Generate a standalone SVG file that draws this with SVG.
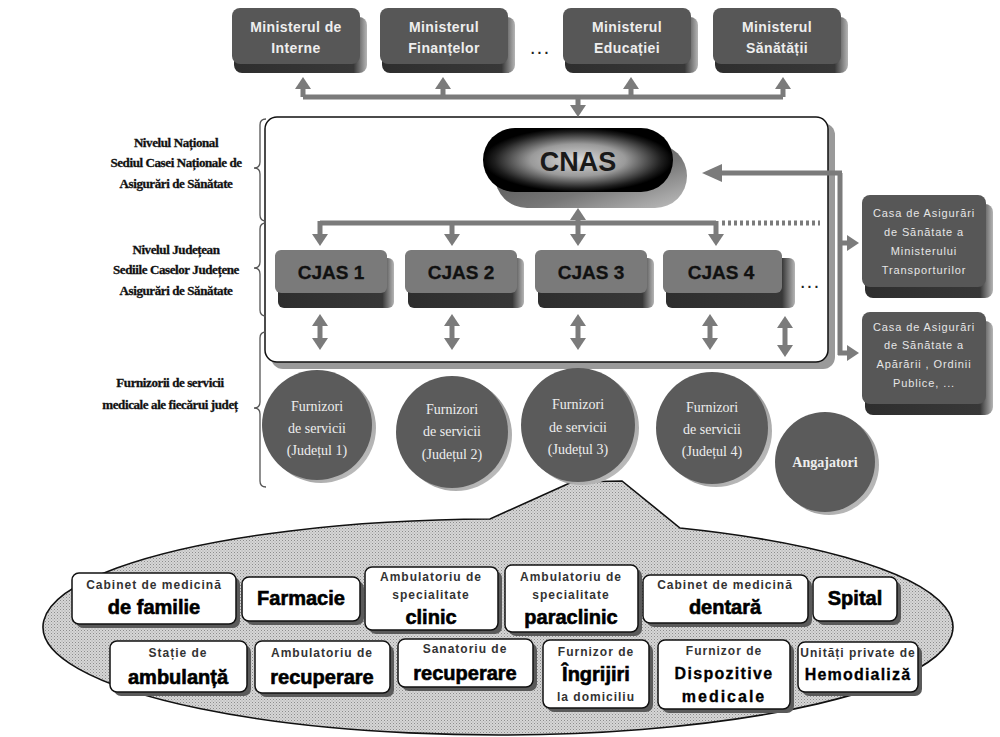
<svg xmlns="http://www.w3.org/2000/svg" width="1000" height="737" viewBox="0 0 1000 737">
<defs>
<style>
.conn{fill:none;stroke:#7b7b7b;stroke-width:5}
.arr{marker-end:url(#ah)}
.dbl{marker-start:url(#ah);marker-end:url(#ah)}
.brace{fill:none;stroke:#555;stroke-width:1.3}
.lbl{font-family:"Liberation Serif","Times New Roman",serif;font-weight:bold;font-size:13px;fill:#111;stroke:#111;stroke-width:0.3;text-anchor:middle;letter-spacing:-0.4px}
.mt{font-family:"Liberation Sans",Arial,sans-serif;font-weight:bold;font-size:14px;fill:#eee;letter-spacing:0.4px;text-anchor:middle}
.face{fill:#575757}
.ext{fill:url(#extGrad)}
.cface{fill:#7a7a7a}
.ct{font-family:"Liberation Sans",Arial,sans-serif;font-weight:bold;font-size:19px;fill:#111;stroke:#111;stroke-width:0.3;text-anchor:middle}
.st{font-family:"Liberation Sans",Arial,sans-serif;font-size:11px;fill:#e6e6e6;letter-spacing:0.9px;text-anchor:middle}
.circ{fill:#5b5b5b}
.rim{fill:url(#rimGrad)}
.cirt{font-family:"Liberation Serif","Times New Roman",serif;font-size:14px;fill:#eee;text-anchor:middle}
.bshadow{fill:#5a5a5a}
.bface{fill:#fff;stroke:#111;stroke-width:1.5}
.sm{font-family:"Liberation Sans",Arial,sans-serif;font-weight:bold;font-size:12px;fill:#333;letter-spacing:1px;text-anchor:middle}
.bg{font-family:"Liberation Sans",Arial,sans-serif;font-weight:bold;font-size:20px;fill:#000;stroke:#000;stroke-width:0.6;text-anchor:middle}
.md{font-family:"Liberation Sans",Arial,sans-serif;font-weight:bold;font-size:16px;fill:#000;stroke:#000;stroke-width:0.3;text-anchor:middle}
.dots{font-family:"Liberation Sans",Arial,sans-serif;font-weight:bold;font-size:14px;fill:#222;letter-spacing:3px;text-anchor:middle}
</style>
<marker id="ah" viewBox="0 0 12 16" refX="1" refY="8" markerWidth="12" markerHeight="16" markerUnits="userSpaceOnUse" orient="auto-start-reverse"><path d="M0,0 L12,8 L0,16 z" fill="#7b7b7b"/></marker>
<marker id="ahL" viewBox="0 0 20 18" refX="1" refY="9" markerWidth="20" markerHeight="18" markerUnits="userSpaceOnUse" orient="auto"><path d="M0,0 L20,9 L0,18 z" fill="#7b7b7b"/></marker>
<linearGradient id="extGrad" x1="0" y1="0" x2="1" y2="0"><stop offset="0" stop-color="#2e2e2e"/><stop offset="0.9" stop-color="#383838"/><stop offset="1" stop-color="#b5b5b5"/></linearGradient>
<radialGradient id="cnasFace" cx="0.5" cy="0.5" r="0.5"><stop offset="0" stop-color="#dcdcdc"/><stop offset="0.5" stop-color="#9a9a9a"/><stop offset="0.88" stop-color="#1e1e1e"/><stop offset="1" stop-color="#000"/></radialGradient>
<linearGradient id="cnasExt" x1="0" y1="0" x2="1" y2="1"><stop offset="0" stop-color="#444"/><stop offset="0.6" stop-color="#777"/><stop offset="1" stop-color="#c0c0c0"/></linearGradient>
<linearGradient id="rimGrad" x1="0" y1="0" x2="1" y2="1"><stop offset="0" stop-color="#666"/><stop offset="1" stop-color="#c8c8c8"/></linearGradient>
<pattern id="hatch" width="3" height="3" patternUnits="userSpaceOnUse"><rect width="3" height="3" fill="#d6d6d6"/><rect width="1" height="1" fill="#8c8c8c"/><rect x="1.5" y="1.5" width="1" height="1" fill="#a4a4a4"/></pattern>
</defs>
<rect width="1000" height="737" fill="#fff"/>

<g id="callout">
<path d="M572,482 L490,519 A455,108 0 1,0 680,528 L622,481 Z" fill="url(#hatch)" stroke="#111" stroke-width="1.6"/>
</g>

<g id="frame">
<rect x="271" y="123" width="564" height="246" rx="12" fill="#9a9a9a"/>
<rect x="265" y="117" width="563" height="245" rx="12" fill="#fff" stroke="#111" stroke-width="1.5"/>
<path class="brace" d="M266,119 Q260,119 260,125 V162 Q260,168 254,168 Q260,168 260,174 V215 Q260,221 266,221"/>
<path class="brace" d="M266,223 Q260,223 260,229 V262 Q260,268 254,268 Q260,268 260,274 V310 Q260,316 266,316"/>
<path class="brace" d="M266,332 Q260,332 260,338 V402 Q260,408 254,408 Q260,408 260,414 V481 Q260,487 266,487"/>
</g>

<g id="labels">
<text class="lbl" x="176" y="147">Nivelul Național</text>
<text class="lbl" x="176" y="167">Sediul Casei Naționale de</text>
<text class="lbl" x="176" y="188">Asigurări de Sănătate</text>
<text class="lbl" x="176" y="254">Nivelul Județean</text>
<text class="lbl" x="176" y="274">Sediile Caselor Județene</text>
<text class="lbl" x="176" y="295">Asigurări de Sănătate</text>
<text class="lbl" x="170" y="387">Furnizorii de servicii</text>
<text class="lbl" x="170" y="409">medicale ale fiecărui județ</text>
<text class="dots" x="541" y="54">...</text>
<text class="dots" x="811" y="288">...</text>
</g>

<g id="connectors">
<path class="conn" d="M303,97 H783"/>
<path class="conn arr" d="M303,97 V88"/>
<path class="conn arr" d="M443,97 V88"/>
<path class="conn arr" d="M631,97 V88"/>
<path class="conn arr" d="M783,97 V88"/>
<path class="conn arr" d="M578,95 V106"/>
<path class="conn" d="M320,223 H716"/>
<path class="conn" d="M722,223 H820" stroke-dasharray="3 3" stroke-width="4"/>
<path class="conn arr" d="M320,221 V235"/>
<path class="conn arr" d="M452,221 V235"/>
<path class="conn arr" d="M716,221 V235"/>
<path class="conn dbl" d="M578,219 V235"/>
<path class="conn" d="M840,173 V355"/>
<path class="conn" d="M842,173 H721" marker-end="url(#ahL)"/>
<path class="conn arr" d="M838,243 H848"/>
<path class="conn arr" d="M838,353 H848"/>
<path class="conn dbl" d="M320,325 V339"/>
<path class="conn dbl" d="M452,325 V339"/>
<path class="conn dbl" d="M578,325 V339"/>
<path class="conn dbl" d="M710,325 V339"/>
<path class="conn dbl" d="M785,327 V346"/>
</g>

<g id="min-interne">
<rect class="ext" x="234" y="17" width="133" height="56" rx="8"/>
<rect class="face" x="232" y="8" width="128" height="56" rx="8"/>
<text class="mt" x="296" y="32">Ministerul de</text>
<text class="mt" x="296" y="53">Interne</text>
</g>
<g id="min-finante">
<rect class="ext" x="382" y="17" width="133" height="56" rx="8"/>
<rect class="face" x="380" y="8" width="128" height="56" rx="8"/>
<text class="mt" x="444" y="32">Ministerul</text>
<text class="mt" x="444" y="53">Finanțelor</text>
</g>
<g id="min-educatie">
<rect class="ext" x="565" y="17" width="133" height="56" rx="8"/>
<rect class="face" x="563" y="8" width="128" height="56" rx="8"/>
<text class="mt" x="627" y="32">Ministerul</text>
<text class="mt" x="627" y="53">Educației</text>
</g>
<g id="min-sanatate">
<rect class="ext" x="715" y="17" width="133" height="56" rx="8"/>
<rect class="face" x="713" y="8" width="128" height="56" rx="8"/>
<text class="mt" x="777" y="32">Ministerul</text>
<text class="mt" x="777" y="53">Sănătății</text>
</g>

<g id="cnas">
<rect x="495" y="144" width="192" height="64" rx="32" fill="url(#cnasExt)"/>
<rect x="483" y="128" width="190" height="64" rx="32" fill="url(#cnasFace)"/>
<text x="578" y="171" font-family="Liberation Sans, Arial, sans-serif" font-weight="bold" font-size="27" fill="#1a1a1a" text-anchor="middle">CNAS</text>
</g>

<g id="cjas1">
<rect class="ext" x="278" y="258" width="116" height="50" rx="6"/>
<rect class="cface" x="275" y="250" width="112" height="43" rx="6"/>
<text class="ct" x="331" y="279">CJAS 1</text>
</g>
<g id="cjas2">
<rect class="ext" x="408" y="258" width="116" height="50" rx="6"/>
<rect class="cface" x="405" y="250" width="112" height="43" rx="6"/>
<text class="ct" x="461" y="279">CJAS 2</text>
</g>
<g id="cjas3">
<rect class="ext" x="538" y="258" width="116" height="50" rx="6"/>
<rect class="cface" x="535" y="250" width="112" height="43" rx="6"/>
<text class="ct" x="591" y="279">CJAS 3</text>
</g>
<g id="cjas4">
<rect class="ext" x="666" y="258" width="129" height="50" rx="6"/>
<rect class="cface" x="663" y="250" width="119" height="43" rx="6"/>
<text class="ct" x="721" y="279">CJAS 4</text>
</g>

<g id="casa-transport">
<rect class="ext" x="865" y="204" width="128" height="94" rx="8"/>
<rect class="face" x="862" y="195" width="124" height="92" rx="8"/>
<text class="st" x="924" y="217">Casa de Asigurări</text>
<text class="st" x="924" y="236">de Sănătate a</text>
<text class="st" x="924" y="255">Ministerului</text>
<text class="st" x="924" y="274">Transporturilor</text>
</g>
<g id="casa-aparare">
<rect class="ext" x="865" y="321" width="128" height="94" rx="8"/>
<rect class="face" x="862" y="312" width="124" height="92" rx="8"/>
<text class="st" x="924" y="331">Casa de Asigurări</text>
<text class="st" x="924" y="349">de Sănătate a</text>
<text class="st" x="924" y="368">Apărării , Ordinii</text>
<text class="st" x="924" y="387">Publice, ...</text>
</g>

<g id="furnizori1">
<circle class="rim" cx="321" cy="428" r="55"/>
<circle class="circ" cx="317" cy="425" r="55"/>
<text class="cirt" x="317" y="411">Furnizori</text>
<text class="cirt" x="317" y="433">de servicii</text>
<text class="cirt" x="317" y="455">(Județul 1)</text>
</g>
<g id="furnizori2">
<circle class="rim" cx="456" cy="435" r="56"/>
<circle class="circ" cx="452" cy="432" r="56"/>
<text class="cirt" x="452" y="414">Furnizori</text>
<text class="cirt" x="452" y="436">de servicii</text>
<text class="cirt" x="452" y="459">(Județul 2)</text>
</g>
<g id="furnizori3">
<circle class="rim" cx="582" cy="428" r="57"/>
<circle class="circ" cx="578" cy="425" r="57"/>
<text class="cirt" x="578" y="409">Furnizori</text>
<text class="cirt" x="578" y="432">de servicii</text>
<text class="cirt" x="578" y="454">(Județul 3)</text>
</g>
<g id="furnizori4">
<circle class="rim" cx="716" cy="431" r="56"/>
<circle class="circ" cx="712" cy="428" r="56"/>
<text class="cirt" x="712" y="412">Furnizori</text>
<text class="cirt" x="712" y="434">de servicii</text>
<text class="cirt" x="712" y="456">(Județul 4)</text>
</g>
<g id="angajatori">
<circle class="rim" cx="829" cy="465" r="50"/>
<circle class="circ" cx="825" cy="462" r="50"/>
<text class="cirt" x="825" y="467" font-weight="bold">Angajatori</text>
</g>

<g id="b-familie">
<rect class="bshadow" x="76" y="577" width="164" height="51" rx="7"/>
<rect class="bface" x="72" y="573" width="164" height="51" rx="7"/>
<text class="sm" x="154" y="589">Cabinet de medicină</text>
<text class="bg" x="154" y="614">de familie</text>
</g>
<g id="b-farmacie">
<rect class="bshadow" x="246" y="581" width="118" height="44" rx="7"/>
<rect class="bface" x="242" y="577" width="118" height="44" rx="7"/>
<text class="bg" x="301" y="605">Farmacie</text>
</g>
<g id="b-clinic">
<rect class="bshadow" x="369" y="571" width="133" height="63" rx="7"/>
<rect class="bface" x="365" y="567" width="133" height="63" rx="7"/>
<text class="sm" x="431" y="581">Ambulatoriu de</text>
<text class="sm" x="431" y="599">specialitate</text>
<text class="bg" x="431" y="624">clinic</text>
</g>
<g id="b-paraclinic">
<rect class="bshadow" x="509" y="569" width="133" height="67" rx="7"/>
<rect class="bface" x="505" y="565" width="133" height="67" rx="7"/>
<text class="sm" x="571" y="581">Ambulatoriu de</text>
<text class="sm" x="571" y="599">specialitate</text>
<text class="bg" x="571" y="624">paraclinic</text>
</g>
<g id="b-dentara">
<rect class="bshadow" x="647" y="579" width="165" height="48" rx="7"/>
<rect class="bface" x="643" y="575" width="165" height="48" rx="7"/>
<text class="sm" x="725" y="589">Cabinet de medicină</text>
<text class="bg" x="725" y="614">dentară</text>
</g>
<g id="b-spital">
<rect class="bshadow" x="817" y="581" width="84" height="44" rx="7"/>
<rect class="bface" x="813" y="577" width="84" height="44" rx="7"/>
<text class="bg" x="855" y="605">Spital</text>
</g>
<g id="b-ambulanta">
<rect class="bshadow" x="114" y="645" width="137" height="51" rx="7"/>
<rect class="bface" x="110" y="641" width="137" height="51" rx="7"/>
<text class="sm" x="178" y="657">Stație de</text>
<text class="bg" x="178" y="684">ambulanță</text>
</g>
<g id="b-amb-recuperare">
<rect class="bshadow" x="259" y="645" width="135" height="52" rx="7"/>
<rect class="bface" x="255" y="641" width="135" height="52" rx="7"/>
<text class="sm" x="322" y="657">Ambulatoriu de</text>
<text class="bg" x="322" y="684">recuperare</text>
</g>
<g id="b-sanatoriu">
<rect class="bshadow" x="402" y="643" width="135" height="48" rx="7"/>
<rect class="bface" x="398" y="639" width="135" height="48" rx="7"/>
<text class="sm" x="465" y="653">Sanatoriu de</text>
<text class="bg" x="465" y="680">recuperare</text>
</g>
<g id="b-ingrijiri">
<rect class="bshadow" x="547" y="644" width="106" height="68" rx="7"/>
<rect class="bface" x="543" y="640" width="106" height="68" rx="7"/>
<text class="sm" x="596" y="656">Furnizor de</text>
<text class="bg" x="596" y="681">Îngrijiri</text>
<text class="sm" x="596" y="701">la domiciliu</text>
</g>
<g id="b-dispozitive">
<rect class="bshadow" x="662" y="644" width="132" height="69" rx="7"/>
<rect class="bface" x="658" y="640" width="132" height="69" rx="7"/>
<text class="sm" x="724" y="655">Furnizor de</text>
<text class="md" x="724" y="679" letter-spacing="1.3">Dispozitive</text>
<text class="md" x="724" y="702" letter-spacing="2">medicale</text>
</g>
<g id="b-hemodializa">
<rect class="bshadow" x="802" y="646" width="120" height="50" rx="7"/>
<rect class="bface" x="798" y="642" width="120" height="50" rx="7"/>
<text class="sm" x="858" y="657">Unități private de</text>
<text class="md" x="858" y="680" font-size="15" letter-spacing="1.2">Hemodializă</text>
</g>
</svg>
